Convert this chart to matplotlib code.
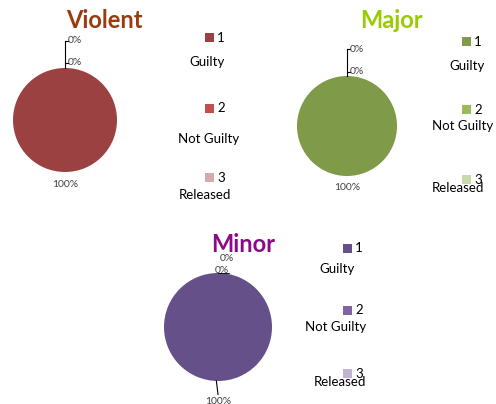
import matplotlib
matplotlib.use("Agg")
import matplotlib.pyplot as plt
from matplotlib.patches import Rectangle

plt.rcParams['font.family'] = ['Lato', 'DejaVu Sans']

W, H = 496, 404

# data
charts = ['Violent', 'Major', 'Minor']
categories = ['Guilty', 'Not Guilty', 'Released']
violent_values = [100, 0, 0]
major_values = [100, 0, 0]
minor_values = [100, 0, 0]

title_colors = {'Violent': '#9B3A0E', 'Major': '#99CC00', 'Minor': '#8B0A8B'}
slice_colors = {
    'Violent': ['#9C4141', '#C0504D', '#D9A9A9'],
    'Major': ['#7F9A48', '#9BBB59', '#C9D9AB'],
    'Minor': ['#66508A', '#8064A2', '#C0B4D2'],
}

# layout in pixels: pie centre, radius, title pos, legend entries
layout = {
    'Violent': dict(c=(65, 120), r=52, title=(104, 21),
                    sq=[(205, 33), (205, 104), (205, 173)],
                    txt=[(207, 62), (209, 139), (205, 195)]),
    'Major': dict(c=(347, 126), r=50, title=(391, 21),
                  sq=[(462, 37), (462, 105), (462, 175)],
                  txt=[(467, 66), (463, 126), (458, 188)]),
    'Minor': dict(c=(218, 327), r=54, title=(243, 245),
                  sq=[(343, 244), (343, 306), (343, 369)],
                  txt=[(337, 269), (336, 327), (340, 382)]),
}

values = {'Violent': violent_values, 'Major': major_values, 'Minor': minor_values}

fig = plt.figure(figsize=(W / 100, H / 100), dpi=100)


def fx(x):
    return x / W


def fy(y):
    return 1 - y / H


PCT = 7.5
for name in charts:
    L = layout[name]
    cx, cy = L['c']
    r = L['r']
    ax = fig.add_axes([fx(cx - r), fy(cy + r), 2 * r / W, 2 * r / H])
    vals = values[name]
    ax.pie(vals, colors=slice_colors[name], startangle=90, counterclock=False,
           wedgeprops=dict(linewidth=0))
    ax.set_xlim(-1, 1)
    ax.set_ylim(-1, 1)
    ax.set_aspect('equal')
    ax.axis('off')

    total = sum(vals)
    pct = [f"{v / total * 100:.0f}%" for v in vals]

    if name in ('Violent', 'Major'):
        top = 1.52 if name == 'Violent' else 1.54
        mid = 1.1 if name == 'Violent' else 1.08
        ax.plot([0, 0], [1, top], color='black', lw=0.8, clip_on=False)
        ax.plot([0, 0.05], [top, top], color='black', lw=0.8, clip_on=False)
        ax.plot([0, 0.05], [mid, mid], color='black', lw=0.8, clip_on=False)
        ax.text(0.06, top, pct[2], fontsize=PCT, va='center', ha='left', color='#404040')
        ax.text(0.06, mid, pct[1], fontsize=PCT, va='center', ha='left', color='#404040')
        ax.text(0, -1.24, pct[0], fontsize=PCT, va='center', ha='center', color='#404040')
    else:
        ax.text(0.16, 1.26, pct[2], fontsize=PCT, va='center', ha='center', color='#404040')
        ax.text(0.08, 1.05, pct[1], fontsize=PCT, va='center', ha='center', color='#404040')
        ax.plot([0, 0.2], [1.0, 1.0], color='black', lw=0.6, clip_on=False)
        ax.plot([-0.03, 0.0], [-1.0, -1.25], color='black', lw=0.8, clip_on=False)
        ax.text(0.0, -1.38, pct[0], fontsize=PCT, va='center', ha='center', color='#404040')

    fig.text(fx(L['title'][0]), fy(L['title'][1]), name, fontsize=17,
             fontweight='bold', color=title_colors[name], ha='center', va='center')

    for i, cat in enumerate(categories):
        sx, sy = L['sq'][i]
        fig.add_artist(Rectangle((fx(sx), fy(sy + 9)), 9 / W, 9 / H,
                                 transform=fig.transFigure,
                                 facecolor=slice_colors[name][i], edgecolor='none'))
        fig.text(fx(sx + 12), fy(sy + 4.5), str(i + 1), fontsize=9.5,
                 ha='left', va='center', color='black')
        tx, ty = L['txt'][i]
        fig.text(fx(tx), fy(ty), cat, fontsize=9.5, ha='center', va='center',
                 color='black')

fig.savefig('out.png', dpi=100)
